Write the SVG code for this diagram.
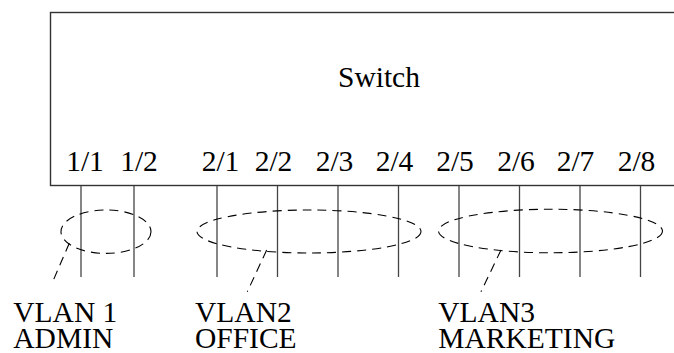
<svg xmlns="http://www.w3.org/2000/svg" width="674" height="353" viewBox="0 0 674 353">
<style>
text{font-family:'Liberation Serif','DejaVu Serif',serif;font-size:29.5px;fill:#000}
.port{text-anchor:middle}
.box{fill:#fff;stroke:#333;stroke-width:1.4}
.wire{stroke:#444;stroke-width:1.3;fill:none}
.vlan{fill:none;stroke:#000;stroke-width:1.1;stroke-dasharray:9 6}
</style>
<rect width="674" height="353" fill="#fff"/>
<g id="switch">
<rect class="box" x="50.5" y="12.5" width="700" height="173"/>
<text x="379" y="87.3" text-anchor="middle" font-family="Liberation Serif, serif">Switch</text>
<text class="port" x="85" y="170.7">1/1</text>
<text class="port" x="139" y="170.7">1/2</text>
<text class="port" x="220.5" y="170.7">2/1</text>
<text class="port" x="273.5" y="170.7">2/2</text>
<text class="port" x="334.5" y="170.7">2/3</text>
<text class="port" x="394.5" y="170.7">2/4</text>
<text class="port" x="455" y="170.7">2/5</text>
<text class="port" x="516" y="170.7">2/6</text>
<text class="port" x="575.5" y="170.7">2/7</text>
<text class="port" x="636.5" y="170.7">2/8</text>
</g>
<g id="connectors">
<line class="wire" x1="81" y1="186" x2="81" y2="277"/>
<line class="wire" x1="134" y1="186" x2="134" y2="277"/>
<line class="wire" x1="217" y1="186" x2="217" y2="277"/>
<line class="wire" x1="277.5" y1="186" x2="277.5" y2="277"/>
<line class="wire" x1="338" y1="186" x2="338" y2="277"/>
<line class="wire" x1="398.5" y1="186" x2="398.5" y2="277"/>
<line class="wire" x1="459" y1="186" x2="459" y2="277"/>
<line class="wire" x1="519.5" y1="186" x2="519.5" y2="277"/>
<line class="wire" x1="580" y1="186" x2="580" y2="277"/>
<line class="wire" x1="640.5" y1="186" x2="640.5" y2="277"/>
<line class="vlan" x1="69.3" y1="243.3" x2="51.7" y2="284"/>
<line class="vlan" x1="266.7" y1="250" x2="247.3" y2="291.7"/>
<line class="vlan" x1="501" y1="250" x2="481" y2="291.7"/>
</g>
<g id="vlan1">
<ellipse class="vlan" cx="106" cy="231.7" rx="45" ry="21.7"/>
<text x="13.3" y="322">VLAN 1</text>
<text x="13.3" y="348">ADMIN</text>
</g>
<g id="vlan2">
<ellipse class="vlan" cx="309" cy="231.5" rx="112" ry="21.5"/>
<text x="195" y="322">VLAN2</text>
<text x="195" y="348">OFFICE</text>
</g>
<g id="vlan3">
<ellipse class="vlan" cx="550.5" cy="231" rx="112" ry="21.8"/>
<text x="438.3" y="322">VLAN3</text>
<text x="438.3" y="348">MARKETING</text>
</g>
</svg>
